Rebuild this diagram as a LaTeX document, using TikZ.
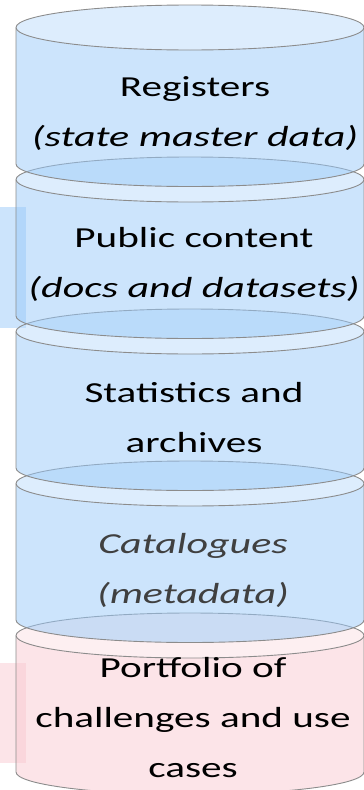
\documentclass[tikz,border=0pt]{standalone}
\usepackage{graphicx}
\usepackage{fontspec}
\setmainfont{Carlito}
\newcommand\itl[1]{\scalebox{1.02}[1]{\textit{#1}}}
\begin{document}
\begin{tikzpicture}[x=1pt,y=-1pt,
  edge/.style={draw=edgegray, line width=0.9pt},
  lbl/.style={font=\fontsize{29}{50}\selectfont, align=center, xscale=1.42,
              inner sep=0pt, anchor=base, text=black}]
\definecolor{edgegray}{RGB}{140,140,140}
\definecolor{bluebody}{RGB}{153,201,249}
\definecolor{bluetop}{RGB}{187,219,251}
\definecolor{pinkbody}{RGB}{249,201,209}
\definecolor{pinktop}{RGB}{251,223,227}
\definecolor{greytext}{RGB}{64,64,64}

\useasboundingbox (0,0) rectangle (364,790);
\clip (0,0) rectangle (364,790);

% tabs sticking out behind the stack
\fill[bluebody, fill opacity=0.5] (0,207) rectangle (26,328);
\fill[pinkbody, fill opacity=0.5] (0,663) rectangle (26,763);

% one drum of the stack: #1 top centre y, #2 bottom centre y, #3 body, #4 lid
\newcommand\drum[4]{%
  \fill[#3, fill opacity=0.5]
    (16,#1) -- (16,#2) arc[start angle=180, end angle=0, x radius=174, y radius=22.5]
    -- (364,#1) arc[start angle=0, end angle=180, x radius=174, y radius=22.5] -- cycle;
  \fill[#4, fill opacity=0.5] (190,#1) ellipse[x radius=174, y radius=22.5];
  \draw[edge] (16,#1) -- (16,#2) arc[start angle=180, end angle=0, x radius=174, y radius=22.5]
    -- (364,#1);
  \draw[edge] (190,#1) ellipse[x radius=174, y radius=22.5];
}

% drawn from the bottom up so each drum sits over the lid below it
\drum{635.5}{772}{pinkbody}{pinktop}
\drum{483.5}{620}{bluebody}{bluetop}
\drum{331.5}{468}{bluebody}{bluetop}
\drum{179.5}{316}{bluebody}{bluetop}
\drum{27.5}{164}{bluebody}{bluetop}

% labels (anchored on the baseline of their last line)
\node[lbl] (registers) at (195,146) {Registers\\\itl{(state master data)}};
\node[lbl] (public) at (194,297) {Public content\\\itl{(docs and datasets)}};
\node[lbl] (stats) at (194,452) {Statistics and\\archives};
\node[lbl, text=greytext] (catalogues) at (193,603) {\itl{Catalogues}\\\itl{(metadata)}};
\node[lbl] (portfolio) at (193,777) {Portfolio of\\challenges and use\\cases};
\end{tikzpicture}
\end{document}
